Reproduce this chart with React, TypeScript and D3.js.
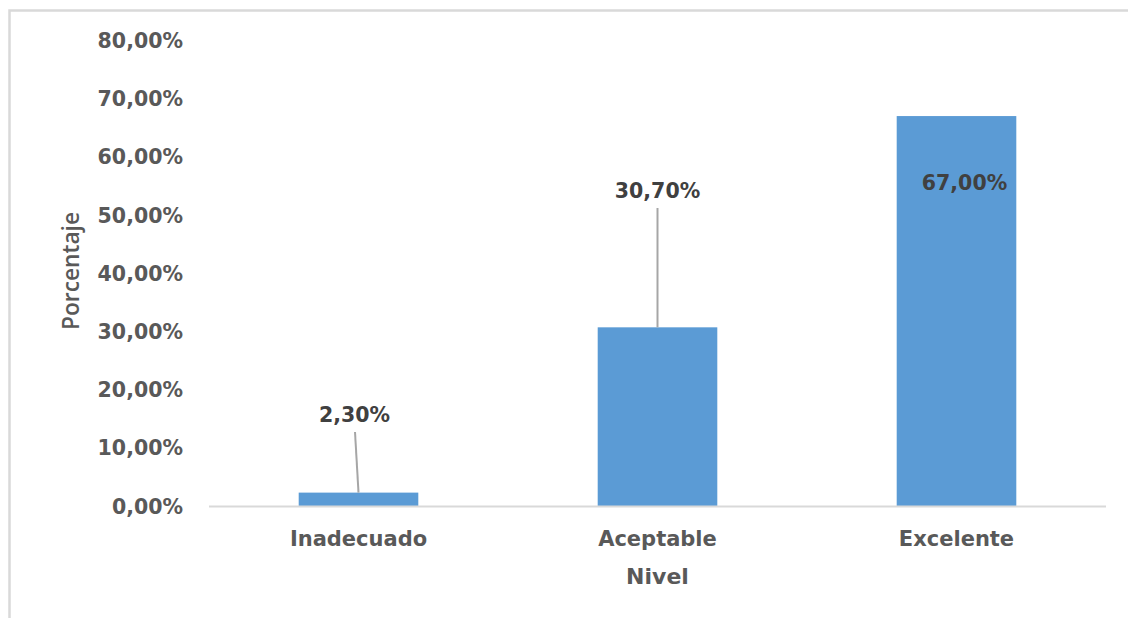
import React from "react";
import * as d3 from "d3";

// Distribution by level
const categories: string[] = ["Inadecuado", "Aceptable", "Excelente"];
const values: number[] = [2.3, 30.7, 67.0];
const yTicks: number[] = [0, 10, 20, 30, 40, 50, 60, 70, 80];
const yAxisTitle = "Porcentaje";
const xAxisTitle = "Nivel";

const W = 1128;
const H = 618;
const plot = { left: 209, right: 1106, top: 40.4, bottom: 506 };

const fmt = (v: number) => v.toFixed(2).replace(".", ",") + "%";

export default function App() {
  const x = d3
    .scaleBand<string>()
    .domain(categories)
    .range([plot.left, plot.right])
    .paddingInner(0.6)
    .paddingOuter(0.3);
  const y = d3.scaleLinear().domain([0, 80]).range([plot.bottom, plot.top]);

  const font = "'DejaVu Sans', Verdana, sans-serif";
  const bw = x.bandwidth();

  // label placement: above the bar with a leader line, or inside the top of tall bars
  const labelFor = (v: number, i: number) => {
    const cx = (x(categories[i]) as number) + bw / 2;
    if (v > 50) {
      return { tx: cx + 8, ty: y(v) + 74, leader: null as null | number[] };
    }
    const ty = i === 0 ? 422 : 198;
    const topY = ty + 10;
    const lx0 = i === 0 ? cx - 3.5 : cx;
    return { tx: i === 0 ? cx - 4 : cx, ty, leader: [lx0, topY, cx, y(v)] };
  };

  return (
    <div style={{ position: "fixed", left: 0, top: 0 }}>
      <svg width={W} height={H} style={{ display: "block", background: "#fff" }}>
        {/* chart frame */}
        <path d={`M9.5,${H + 5} L9.5,10.5 L${W + 5},10.5`} fill="none" stroke="#D9D9D9" strokeWidth={2.5} />

        {/* y tick labels */}
        {yTicks.map((t) => (
          <text
            key={t}
            x={183}
            y={y(t)}
            dy={7.5}
            textAnchor="end"
            fontFamily={font}
            fontWeight="bold"
            fontSize={20.5}
            fill="#595959"
          >
            {fmt(t)}
          </text>
        ))}

        {/* bars */}
        {values.map((v, i) => (
          <rect
            key={categories[i]}
            x={x(categories[i])}
            y={y(v)}
            width={bw}
            height={y(0) - y(v)}
            fill="#5B9BD5"
          />
        ))}

        {/* baseline */}
        <line x1={plot.left} x2={plot.right} y1={506.5} y2={506.5} stroke="#D9D9D9" strokeWidth={2} />

        {/* data labels */}
        {values.map((v, i) => {
          const l = labelFor(v, i);
          return (
            <g key={"lab" + i}>
              {l.leader && (
                <line
                  x1={l.leader[0]}
                  y1={l.leader[1]}
                  x2={l.leader[2]}
                  y2={l.leader[3]}
                  stroke="#A6A6A6"
                  strokeWidth={2}
                />
              )}
              <text
                x={l.tx}
                y={l.ty}
                textAnchor="middle"
                fontFamily={font}
                fontWeight="bold"
                fontSize={20.5}
                fill="#404040"
              >
                {fmt(v)}
              </text>
            </g>
          );
        })}

        {/* category labels */}
        {categories.map((c) => (
          <text
            key={c}
            x={(x(c) as number) + bw / 2}
            y={545.5}
            textAnchor="middle"
            fontFamily={font}
            fontWeight="bold"
            fontSize={21}
            fill="#595959"
          >
            {c}
          </text>
        ))}

        {/* axis titles */}
        <text
          x={(plot.left + plot.right) / 2}
          y={584}
          textAnchor="middle"
          fontFamily={font}
          fontWeight="bold"
          fontSize={22}
          fill="#595959"
        >
          {xAxisTitle}
        </text>
        <text
          transform={`translate(79,271) rotate(-90)`}
          textAnchor="middle"
          fontFamily="'Open Sans', 'Noto Sans', sans-serif"
          fontWeight={600}
          fontSize={24}
          fill="#595959"
          textLength={118}
          lengthAdjust="spacingAndGlyphs"
        >
          {yAxisTitle}
        </text>
      </svg>
    </div>
  );
}
